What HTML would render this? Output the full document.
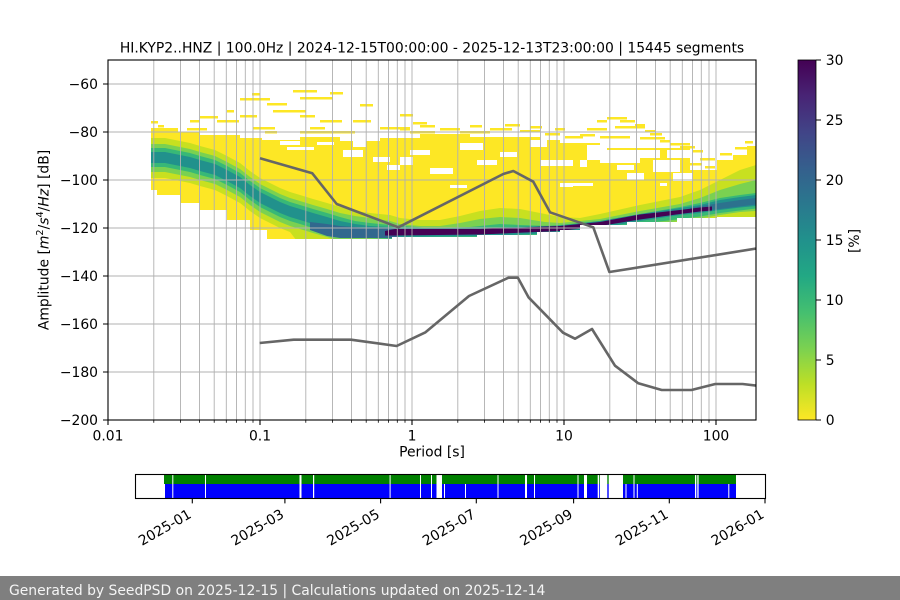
<!DOCTYPE html>
<html><head><meta charset="utf-8"><style>
html,body{margin:0;padding:0;background:#fff;}
svg{display:block;font-family:"DejaVu Sans","Liberation Sans",sans-serif;}
</style></head><body>
<svg width="900" height="600" viewBox="0 0 900 600" xmlns="http://www.w3.org/2000/svg">
<defs>
<clipPath id="ax"><rect x="108" y="60" width="648" height="360"/></clipPath>
<clipPath id="body"><polygon points="151,60 756,60 756,217 717,217 717,218 677,218 677,222 627,222 627,225 580,225 580,230 560,230 560,232 537,232 537,235 477,235 477,237 392,237 392,239 267,239 267,230 250,230 250,220 227,220 227,210 200,210 200,203 180,203 180,195 157,195 157,190 151,190"/></clipPath>
<linearGradient id="vir" x1="0" y1="0" x2="0" y2="1">
<stop offset="0" stop-color="#440154"/><stop offset="0.1" stop-color="#482475"/><stop offset="0.2" stop-color="#414487"/><stop offset="0.3" stop-color="#355f8d"/><stop offset="0.4" stop-color="#2a788e"/><stop offset="0.5" stop-color="#21918c"/><stop offset="0.6" stop-color="#22a884"/><stop offset="0.7" stop-color="#44bf70"/><stop offset="0.8" stop-color="#7ad151"/><stop offset="0.9" stop-color="#bddf26"/><stop offset="1" stop-color="#fde725"/>
</linearGradient>
</defs>
<rect width="900" height="600" fill="#fff"/>

<g clip-path="url(#ax)">
<polygon fill="#fde725" points="151,128 178,128 178,132 200,132 200,135 240,135 240,138 262,138 262,140 300,140 300,137 340,137 340,141 380,141 380,138 420,138 420,134 470,134 470,137 540,137 540,140 560,140 560,143 600,143 600,148 690,148 690,170 717,170 717,160 733,160 733,155 747,155 747,146 756,146 756,217 717,217 717,218 677,218 677,222 627,222 627,225 580,225 580,230 560,230 560,232 537,232 537,235 477,235 477,237 392,237 392,239 267,239 267,230 250,230 250,220 227,220 227,210 200,210 200,203 180,203 180,195 157,195 157,190 151,190"/>
<g fill="#fde725">
<rect x="151" y="121" width="7" height="2.5"/><rect x="158" y="125" width="6" height="2.5"/><rect x="187" y="128" width="20" height="2.5"/><rect x="190" y="120" width="10" height="2.5"/><rect x="200" y="116" width="18" height="2.5"/><rect x="217" y="120" width="22" height="2.5"/><rect x="227" y="110" width="7" height="2.5"/><rect x="240" y="115" width="17" height="2.5"/><rect x="240" y="98" width="30" height="2.5"/><rect x="252" y="93" width="8" height="2.5"/><rect x="267" y="103" width="20" height="2.5"/><rect x="273" y="110" width="33" height="2.5"/><rect x="293" y="90" width="24" height="2.5"/><rect x="300" y="97" width="33" height="2.5"/><rect x="300" y="115" width="15" height="2.5"/><rect x="330" y="92" width="13" height="2.5"/><rect x="360" y="104" width="13" height="2.5"/><rect x="253" y="127" width="22" height="2.5"/><rect x="320" y="120" width="22" height="2.5"/><rect x="353" y="120" width="18" height="2.5"/><rect x="380" y="127" width="20" height="2.5"/><rect x="265" y="131" width="12" height="2.5"/><rect x="310" y="127" width="15" height="2.5"/><rect x="340" y="131" width="15" height="2.5"/><rect x="393" y="127" width="17" height="2.5"/><rect x="300" y="131" width="40" height="2.5"/><rect x="400" y="114" width="13" height="2.5"/><rect x="413" y="122" width="14" height="2.5"/><rect x="400" y="128" width="10" height="2.5"/><rect x="410" y="131" width="25" height="2.5"/><rect x="420" y="125" width="15" height="2.5"/><rect x="440" y="128" width="20" height="2.5"/><rect x="460" y="131" width="30" height="2.5"/><rect x="470" y="125" width="12" height="2.5"/><rect x="490" y="128" width="22" height="2.5"/><rect x="505" y="124" width="15" height="2.5"/><rect x="520" y="130" width="20" height="2.5"/><rect x="530" y="126" width="12" height="2.5"/><rect x="545" y="133" width="15" height="2.5"/><rect x="555" y="128" width="10" height="2.5"/><rect x="565" y="136" width="18" height="2.5"/><rect x="580" y="134" width="15" height="2.5"/><rect x="587" y="128" width="20" height="2.5"/><rect x="597" y="120" width="10" height="2.5"/><rect x="607" y="117" width="20" height="2.5"/><rect x="620" y="120" width="15" height="2.5"/><rect x="615" y="126" width="30" height="2.5"/><rect x="635" y="124" width="10" height="2.5"/><rect x="645" y="130" width="10" height="2.5"/><rect x="600" y="136" width="30" height="2.5"/><rect x="640" y="137" width="25" height="2.5"/><rect x="660" y="140" width="10" height="2.5"/><rect x="650" y="133" width="12" height="2.5"/><rect x="670" y="143" width="20" height="2.5"/><rect x="680" y="146" width="15" height="2.5"/><rect x="693" y="150" width="10" height="2.5"/><rect x="700" y="158" width="15" height="2.5"/><rect x="690" y="163" width="12" height="2.5"/><rect x="705" y="166" width="10" height="2.5"/><rect x="735" y="147" width="21" height="2.5"/><rect x="745" y="141" width="8" height="2.5"/><rect x="720" y="153" width="12" height="2.5"/>
</g>
<g fill="#fff">
<rect x="280" y="141" width="20" height="4"/><rect x="287" y="147" width="27" height="3"/><rect x="317" y="142" width="17" height="3"/><rect x="353" y="141" width="13" height="6"/><rect x="343" y="150" width="20" height="7"/><rect x="373" y="157" width="17" height="5"/><rect x="387" y="165" width="13" height="5"/><rect x="400" y="157" width="13" height="8"/><rect x="410" y="150" width="20" height="5"/><rect x="430" y="168" width="23" height="6"/><rect x="450" y="185" width="17" height="3"/><rect x="460" y="143" width="23" height="7"/><rect x="477" y="160" width="20" height="5"/><rect x="500" y="152" width="17" height="5"/><rect x="530" y="140" width="17" height="7"/><rect x="540" y="160" width="33" height="6"/><rect x="560" y="183" width="13" height="4"/><rect x="587" y="145" width="20" height="15"/><rect x="600" y="150" width="40" height="13"/><rect x="617" y="165" width="17" height="5"/><rect x="640" y="150" width="20" height="8"/><rect x="653" y="160" width="27" height="12"/><rect x="667" y="150" width="23" height="8"/><rect x="673" y="173" width="20" height="8"/><rect x="580" y="160" width="7" height="7"/><rect x="573" y="183" width="20" height="3"/><rect x="627" y="173" width="17" height="7"/><rect x="660" y="183" width="7" height="3"/>
</g>
<g clip-path="url(#body)">
<polygon fill="#c8e020" points="151,138 165,138 180,141 190,143 200,146 215,150 227,156 240,163 250,171 260,178 270,183 280,188 290,192 300,195 313,199 327,203 340,207 355,211 370,213 390,215 400,218 420,220 440,220 460,216 480,211 500,208 520,209 540,213 560,217 580,218 600,214 640,205 680,197 700,190 720,180 740,170 756,165 756,220 740,220 720,220 700,223 680,226 640,231 600,238 560,242 520,242 480,244 440,244 400,244 390,245 300,245 290,232 280,228 270,223 260,218 250,211 240,203 227,196 215,190 200,186 190,183 180,181 165,178 151,178"/>
<polygon fill="#7ad151" points="151,144 165,144 180,147 190,149 200,152 215,156 227,162 240,169 250,177 260,184 270,189 280,194 290,198 300,201 313,205 327,209 340,213 355,216 370,218 390,221 400,224 420,226 440,226 460,223 480,219 500,217 520,218 545,222 560,223 600,219 640,211 680,204 700,198 720,190 740,184 756,180 756,211 740,212 720,215 700,218.5 680,221 640,226 600,233 560,237.5 520,239 480,240.5 440,241 400,241 355,241 340,241 327,237 313,233 300,229 290,226 280,222 270,217 260,212 250,205 240,197 227,190 215,184 200,180 190,177 180,175 165,172 151,172"/>
<polygon fill="#38b877" points="151,148 165,148 180,151 190,153 200,156 215,160 227,166 240,173 250,181 260,188 270,193 280,198 290,202 300,205 313,209 327,213 340,217 355,221 370,223 390,225 430,228 470,227 500,224 520,225 550,226 600,221 640,214 680,207 700,203 720,198 740,195 756,193 756,208.5 740,210.5 720,213 700,216.5 680,219 640,224 600,231 560,235.5 520,237 480,238.5 440,239 400,239 390,239 370,238 355,236 340,236 327,232 313,228 300,224 290,221 280,217 270,212 260,207 250,200 240,192 227,185 215,179 200,175 190,172 180,170 165,167 151,167"/>
<polygon fill="#21918c" points="151,152 165,152 180,155 190,157 200,160 215,164 227,170 240,177 250,185 260,192 270,197 280,202 290,206 300,209 313,213 327,217 340,221 355,224 370,226 390,227 400,228 480,228 560,225.5 600,221 640,214 680,208 700,205 720,200 740,197 756,195 756,206 740,207.5 720,210 700,213 680,215 640,221 600,228 560,233 480,236 400,237 390,238 370,237 355,236 340,232 327,228 313,224 300,220 290,217 280,213 270,208 260,203 250,196 240,188 227,181 215,175 200,171 190,168 180,166 165,163 151,163"/>
<polygon fill="#31688e" points="310,222 327,224 340,226 370,228 398,229 398,238 340,238 327,236 310,230"/>
<polygon fill="#2c728e" points="690,208 720,203 740,200 756,198 756,204.5 740,206.5 720,209 690,212.5"/>
<polygon fill="#440154" points="385,231 395,229 480,229 560,226 600,222 640,214.5 680,210 700,207.5 712,206.5 712,210.5 700,211.5 680,214 640,219.5 600,226 560,231 480,234.5 395,235.5 385,235.5"/>
</g>
<path fill="none" stroke="#b0b0b0" stroke-width="0.9" d="M153.8 60V420M180.5 60V420M199.5 60V420M214.2 60V420M226.3 60V420M236.5 60V420M245.3 60V420M253 60V420M260 60V420M305.8 60V420M332.5 60V420M351.5 60V420M366.2 60V420M378.3 60V420M388.5 60V420M397.3 60V420M405 60V420M412 60V420M457.8 60V420M484.5 60V420M503.5 60V420M518.2 60V420M530.3 60V420M540.5 60V420M549.3 60V420M557 60V420M564 60V420M609.8 60V420M636.5 60V420M655.5 60V420M670.2 60V420M682.3 60V420M692.5 60V420M701.3 60V420M709 60V420M716 60V420M108 84H756M108 132H756M108 180H756M108 228H756M108 276H756M108 324H756M108 372H756"/>
<polyline fill="none" stroke="#666" stroke-width="2.6" stroke-linejoin="round" points="260,158.3 312.3,173.3 336.7,204 398.3,227.3 503.3,174 513.3,171 533.3,181.7 550,212.3 593.3,227.3 609.4,272 758,248.3"/>
<polyline fill="none" stroke="#666" stroke-width="2.6" stroke-linejoin="round" points="259.6,343 293.6,339.7 351,339.7 396.6,346 425.5,332.3 469,296 508.5,277.7 517.9,277.7 528.5,297.3 563,332.7 575,338.7 592,329 615,365.7 638.3,383.3 661.7,390 691.5,390 715.3,384 742.6,384 758,385.8"/>
</g>

<rect x="108" y="60" width="648" height="360" fill="none" stroke="#000" stroke-width="1.1"/>
<path fill="none" stroke="#000" stroke-width="1.1" d="M108 420v5M260 420v5M412 420v5M564 420v5M716 420v5M108 84h-5M108 132h-5M108 180h-5M108 228h-5M108 276h-5M108 324h-5M108 372h-5M108 420h-5"/>
<path fill="none" stroke="#000" stroke-width="0.8" d="M153.8 420v2.8M180.5 420v2.8M199.5 420v2.8M214.2 420v2.8M226.3 420v2.8M236.5 420v2.8M245.3 420v2.8M253 420v2.8M305.8 420v2.8M332.5 420v2.8M351.5 420v2.8M366.2 420v2.8M378.3 420v2.8M388.5 420v2.8M397.3 420v2.8M405 420v2.8M457.8 420v2.8M484.5 420v2.8M503.5 420v2.8M518.2 420v2.8M530.3 420v2.8M540.5 420v2.8M549.3 420v2.8M557 420v2.8M609.8 420v2.8M636.5 420v2.8M655.5 420v2.8M670.2 420v2.8M682.3 420v2.8M692.5 420v2.8M701.3 420v2.8M709 420v2.8"/>

<g font-size="13.9" fill="#000">
<text x="432" y="52.3" text-anchor="middle">HI.KYP2..HNZ | 100.0Hz | 2024-12-15T00:00:00 - 2025-12-13T23:00:00 | 15445 segments</text>
<g text-anchor="middle">
<text x="108" y="440.4">0.01</text><text x="260" y="440.4">0.1</text><text x="412" y="440.4">1</text><text x="564" y="440.4">10</text><text x="716" y="440.4">100</text>
<text x="432" y="456.5">Period [s]</text>
</g>
<g text-anchor="end">
<text x="98" y="89">−60</text><text x="98" y="137">−80</text><text x="98" y="185">−100</text><text x="98" y="233">−120</text><text x="98" y="281">−140</text><text x="98" y="329">−160</text><text x="98" y="377">−180</text><text x="98" y="425">−200</text>
</g>
<text transform="translate(48.5,240) rotate(-90)" text-anchor="middle">Amplitude [<tspan font-style="italic">m</tspan><tspan font-size="9.7" dy="-5.5">2</tspan><tspan dy="5.5">/</tspan><tspan font-style="italic">s</tspan><tspan font-size="9.7" dy="-5.5">4</tspan><tspan dy="5.5">/</tspan><tspan font-style="italic">Hz</tspan>] [dB]</text>
</g>

<rect x="798" y="60" width="18" height="360" fill="url(#vir)" stroke="#000" stroke-width="0.8"/>
<path fill="none" stroke="#000" stroke-width="1.1" d="M816 60h5M816 120h5M816 180h5M816 240h5M816 300h5M816 360h5M816 420h5"/>
<g font-size="13.9" fill="#000">
<text x="825.8" y="65">30</text><text x="825.8" y="125">25</text><text x="825.8" y="185">20</text><text x="825.8" y="245">15</text><text x="825.8" y="305">10</text><text x="825.8" y="365">5</text><text x="825.8" y="425">0</text>
<text transform="translate(859,241) rotate(-90)" text-anchor="middle">[%]</text>
</g>

<rect x="164" y="475" width="572" height="9" fill="#008000"/>
<rect x="165" y="484" width="571" height="14" fill="#0000ff"/>
<g fill="#fff">
<rect x="172.3" y="475" width="1" height="23"/><rect x="205" y="475" width="1" height="23"/><rect x="299.5" y="475" width="2" height="23"/><rect x="313" y="475" width="1.2" height="23"/><rect x="389.6" y="475" width="1" height="23"/><rect x="420" y="475" width="1" height="23"/><rect x="431" y="475" width="1" height="23"/><rect x="436.5" y="475" width="5.5" height="23"/><rect x="444" y="484" width="1" height="14"/><rect x="465" y="484" width="1" height="14"/><rect x="497.5" y="475" width="1" height="23"/><rect x="525" y="475" width="2" height="23"/><rect x="534" y="475" width="1" height="23"/><rect x="577.5" y="475" width="1" height="23"/><rect x="584" y="475" width="3" height="23"/><rect x="597.7" y="475" width="1.5" height="23"/><rect x="600" y="475" width="7.3" height="23"/><rect x="608.7" y="475" width="14.3" height="23"/><rect x="625.5" y="484" width="1" height="14"/><rect x="633.5" y="475" width="1" height="23"/><rect x="636.8" y="484" width="1" height="14"/><rect x="695" y="475" width="1.3" height="23"/><rect x="697.3" y="475" width="1.3" height="23"/><rect x="728.3" y="484" width="1" height="14"/>
</g>
<rect x="135.5" y="474.5" width="630" height="24" fill="none" stroke="#000" stroke-width="1.1"/>
<path fill="none" stroke="#000" stroke-width="1.1" d="M192.3 498.5v4.9M284.9 498.5v4.9M380.6 498.5v4.9M476.3 498.5v4.9M573.6 498.5v4.9M669.3 498.5v4.9M765 498.5v4.9"/>
<g font-size="13.9" fill="#000" text-anchor="end">
<text transform="translate(192.3,517) rotate(-30)">2025-01</text>
<text transform="translate(284.9,517) rotate(-30)">2025-03</text>
<text transform="translate(380.6,517) rotate(-30)">2025-05</text>
<text transform="translate(476.3,517) rotate(-30)">2025-07</text>
<text transform="translate(573.6,517) rotate(-30)">2025-09</text>
<text transform="translate(669.3,517) rotate(-30)">2025-11</text>
<text transform="translate(765,517) rotate(-30)">2026-01</text>
</g>

<rect x="0" y="576" width="900" height="24" fill="#7f7f7f"/>
<text x="9" y="595" font-size="13.9" fill="#f5f5f5">Generated by SeedPSD on 2025-12-15 | Calculations updated on 2025-12-14</text>
</svg>
</body></html>
